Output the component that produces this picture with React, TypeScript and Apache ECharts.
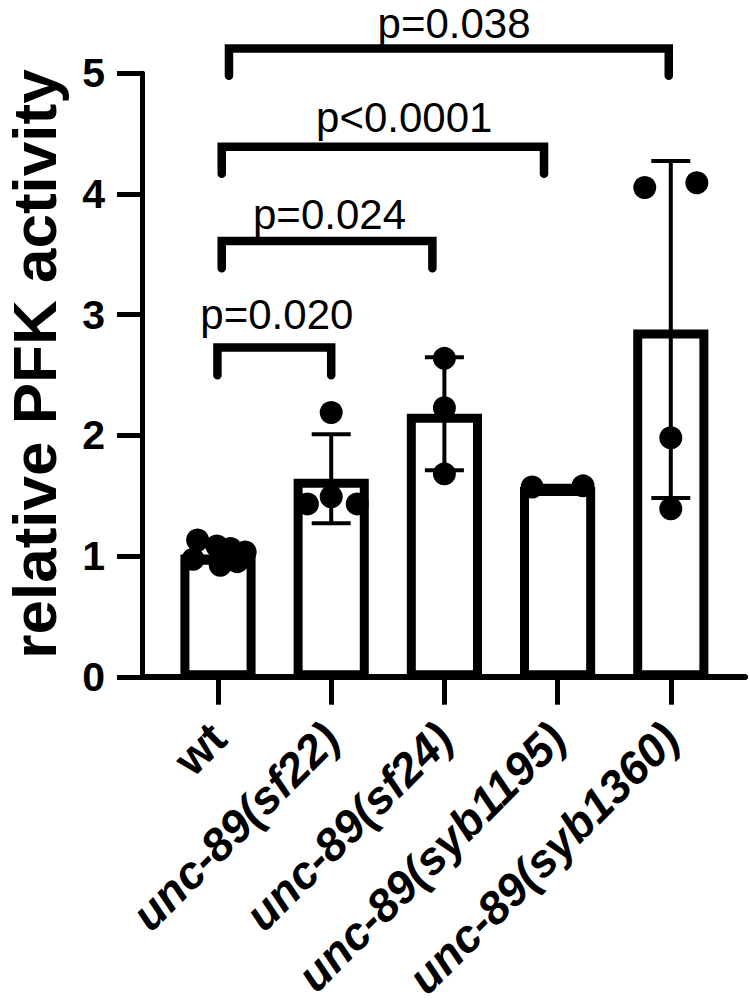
import { useEffect, useRef } from "react";
import * as echarts from "echarts";

// ---------- data ----------
const categories = ["wt", "unc-89(sf22)", "unc-89(sf24)", "unc-89(syb1195)", "unc-89(syb1360)"];
const means = [1.0, 1.63, 2.17, 1.56, 2.87];
const sds = [0.07, 0.37, 0.47, 0.01, 1.4];
const wtPoints = [1.12, 0.96, 1.07, 0.91, 1.05, 0.94, 1.02];
const sf22Points = [2.18, 1.42, 1.48, 1.42];
const sf24Points = [2.63, 2.22, 1.67];
const syb1195Points = [1.56, 1.57];
const syb1360Points = [4.05, 4.09, 1.97, 1.38];
const yTicks = [0, 1, 2, 3, 4, 5];
const pLabels = ["p=0.020", "p=0.024", "p<0.0001", "p=0.038"];
const bracketFrom = [0, 0, 0, 0];
const bracketTo = [1, 2, 3, 4];
const bracketLevel = [2.72, 3.605, 4.39, 5.207];
const bracketDrop = [2.49, 3.38, 4.165, 4.98];
const yTitle = "relative PFK activity";

// ---------- layout (offsets in category-band units / px) ----------
const pointJitter = [
  [-0.18, -0.22, -0.01, 0.02, 0.11, 0.17, 0.24],
  [0, -0.21, 0, 0.23],
  [0, 0, 0],
  [-0.225, 0.225],
  [-0.23, 0.23, 0, 0],
];
const bracketLeftOffset = [-0.005, 0.033, 0.033, 0.097];
const bracketRightOffset = [0, -0.106, -0.12, -0.018];
const labelCenter = [0.52, 0.985, 1.645, 2.085];
const labelGap = [18, 12, 15, 10];

const FONT = "'Liberation Sans', Arial, Helvetica, sans-serif";

export default function App() {
  const ref = useRef<HTMLDivElement>(null);

  useEffect(() => {
    if (!ref.current) return;
    const chart = echarts.init(ref.current, undefined, { renderer: "svg" });

    const groups = [wtPoints, sf22Points, sf24Points, syb1195Points, syb1360Points];
    const pointData: number[][] = [];
    groups.forEach((g, gi) => g.forEach((v, k) => pointData.push([gi, v, pointJitter[gi][k]])));

    const barData = means.map((m, i) => [i, m]);
    const errData = means.map((m, i) => [i, m, sds[i]]);
    const bracketData = pLabels.map((_, i) => [bracketFrom[i], bracketLevel[i], bracketTo[i], bracketDrop[i], i]);

    const top = 73.3;
    const bottom = 1004 - 676.8;

    const option: any = {
      animation: false,
      backgroundColor: "#ffffff",
      grid: [
        { left: 142, right: 5, top, bottom },
        { left: 161.4, right: 22.6, top, bottom },
      ],
      xAxis: [
        {
          gridIndex: 0,
          type: "value",
          min: 0,
          max: 1,
          axisLine: { show: true, lineStyle: { color: "#000", width: 6 } },
          axisTick: { show: false },
          axisLabel: { show: false },
          splitLine: { show: false },
        },
        {
          gridIndex: 1,
          type: "category",
          data: categories,
          boundaryGap: true,
          axisLine: { show: false },
          axisTick: { show: true, alignWithLabel: true, length: 30, lineStyle: { color: "#000", width: 5 } },
          axisLabel: {
            interval: 0,
            rotate: 45,
            margin: 56,
            hideOverlap: false,
            color: "#000",
            formatter: (v: string) => (v === "wt" ? "{n|" + v + "}" : "{i|" + v + "}"),
            rich: {
              n: { fontFamily: FONT, fontWeight: "bold", fontSize: 46, color: "#000" },
              i: { fontFamily: FONT, fontWeight: "bold", fontStyle: "italic", fontSize: 46, color: "#000" },
            },
          },
          splitLine: { show: false },
        },
      ],
      yAxis: [
        {
          gridIndex: 0,
          type: "value",
          min: yTicks[0],
          max: yTicks[yTicks.length - 1],
          interval: 1,
          axisLine: { show: true, lineStyle: { color: "#000", width: 5 } },
          axisTick: { show: true, length: 25, lineStyle: { color: "#000", width: 5 } },
          axisLabel: {
            margin: 37,
            color: "#000",
            fontFamily: FONT,
            fontWeight: "bold",
            fontSize: 41,
          },
          splitLine: { show: false },
        },
        {
          gridIndex: 1,
          type: "value",
          min: yTicks[0],
          max: yTicks[yTicks.length - 1],
          show: false,
          splitLine: { show: false },
        },
      ],
      graphic: [
        {
          type: "text",
          x: 34,
          y: 364,
          rotation: Math.PI / 2,
          style: {
            text: yTitle,
            fontFamily: FONT,
            fontWeight: "bold",
            fontSize: 62,
            lineHeight: 40,
            fill: "#000",
            align: "center",
            verticalAlign: "middle",
          },
        },
      ],
      series: [
        {
          type: "custom",
          xAxisIndex: 1,
          yAxisIndex: 1,
          data: barData,
          encode: { x: 0, y: 1 },
          renderItem: (_p: any, api: any) => {
            const i = api.value(0);
            const m = api.value(1);
            const t = api.coord([i, m]);
            const b = api.coord([i, 0]);
            const band = api.size([1, 0])[0];
            const outer = band * 0.664;
            const bw = 9;
            return {
              type: "rect",
              shape: { x: t[0] - outer / 2 + bw / 2, y: t[1] + bw / 2, width: outer - bw, height: b[1] - t[1] - bw / 2 },
              style: { fill: "#fff", stroke: "#000", lineWidth: bw },
            };
          },
          z: 2,
        },
        {
          type: "custom",
          xAxisIndex: 1,
          yAxisIndex: 1,
          data: errData,
          encode: { x: 0, y: 1 },
          renderItem: (_p: any, api: any) => {
            const i = api.value(0);
            const m = api.value(1);
            const s = api.value(2);
            const hi = api.coord([i, m + s]);
            const lo = api.coord([i, m - s]);
            const cap = 19.5;
            const st = { stroke: "#000", lineWidth: 4 };
            return {
              type: "group",
              children: [
                { type: "line", shape: { x1: hi[0], y1: hi[1], x2: lo[0], y2: lo[1] }, style: st },
                { type: "line", shape: { x1: hi[0] - cap, y1: hi[1], x2: hi[0] + cap, y2: hi[1] }, style: st },
                { type: "line", shape: { x1: lo[0] - cap, y1: lo[1], x2: lo[0] + cap, y2: lo[1] }, style: st },
              ],
            };
          },
          z: 3,
        },
        {
          type: "custom",
          xAxisIndex: 1,
          yAxisIndex: 1,
          data: pointData,
          encode: { x: 0, y: 1 },
          renderItem: (_p: any, api: any) => {
            const i = api.value(0);
            const v = api.value(1);
            const j = api.value(2);
            const c = api.coord([i, v]);
            const band = api.size([1, 0])[0];
            return { type: "circle", shape: { cx: c[0] + j * band, cy: c[1], r: 11.5 }, style: { fill: "#000" } };
          },
          z: 4,
        },
        {
          type: "custom",
          xAxisIndex: 1,
          yAxisIndex: 1,
          data: bracketData,
          encode: { x: 0, y: 1 },
          clip: false,
          renderItem: (_p: any, api: any) => {
            const from = api.value(0);
            const level = api.value(1);
            const to = api.value(2);
            const drop = api.value(3);
            const k = api.value(4);
            const band = api.size([1, 0])[0];
            const a = api.coord([from, level]);
            const bb = api.coord([to, level]);
            const d = api.coord([from, drop]);
            const z0 = api.coord([0, level]);
            const xl = a[0] + bracketLeftOffset[k] * band;
            const xr = bb[0] + bracketRightOffset[k] * band;
            const lx = z0[0] + labelCenter[k] * band;
            return {
              type: "group",
              children: [
                {
                  type: "polyline",
                  shape: { points: [[xl, d[1]], [xl, a[1]], [xr, a[1]], [xr, d[1]]] },
                  style: { stroke: "#000", lineWidth: 8.5, fill: null, lineCap: "round", lineJoin: "miter" },
                },
                {
                  type: "text",
                  x: lx,
                  y: a[1] - labelGap[k] - 14.6,
                  style: {
                    text: pLabels[k],
                    fontFamily: FONT,
                    fontSize: 42,
                    lineHeight: 36,
                    fill: "#000",
                    align: "center",
                    verticalAlign: "middle",
                  },
                },
              ],
            };
          },
          z: 5,
        },
      ],
    };

    chart.setOption(option);
    return () => chart.dispose();
  }, []);

  return <div ref={ref} style={{ position: "fixed", left: 0, top: 0, width: 750, height: 1004 }} />;
}
